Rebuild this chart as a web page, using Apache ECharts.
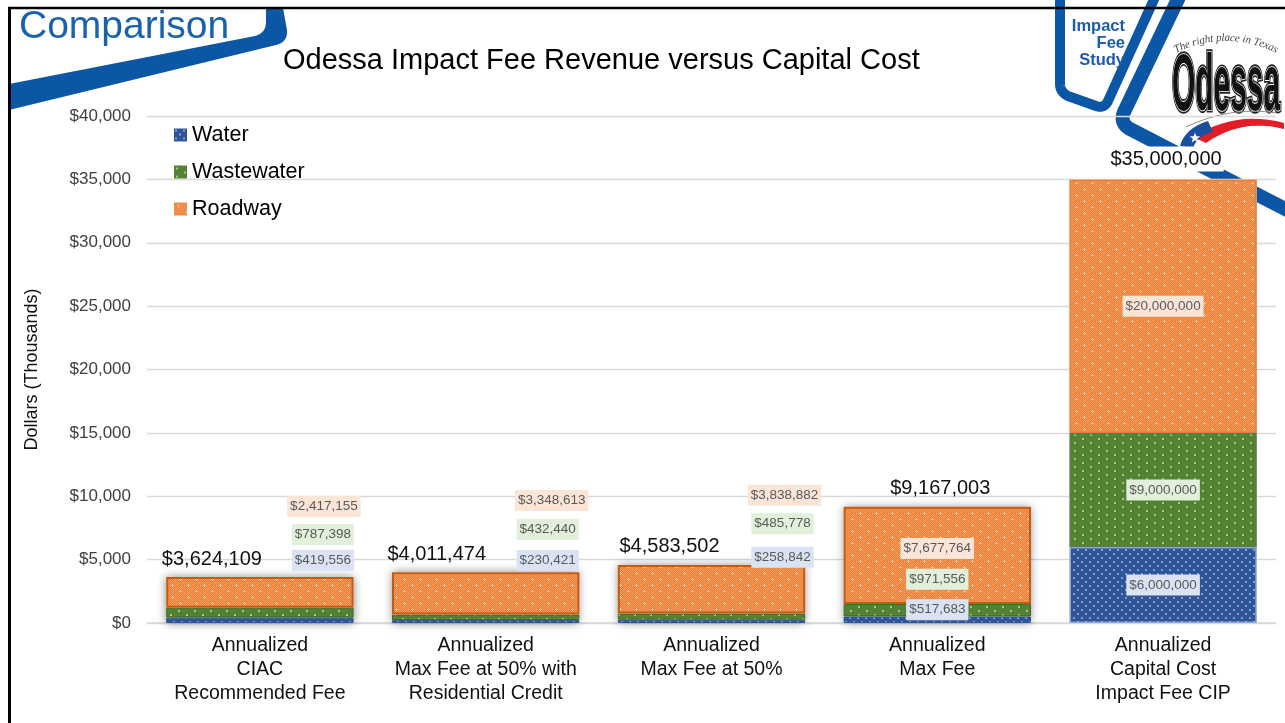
<!DOCTYPE html>
<html>
<head>
<meta charset="utf-8">
<script src="https://cdn.jsdelivr.net/npm/echarts@6/dist/echarts.min.js"></script>
<style>
  html, body { margin: 0; padding: 0; background: #fff; }
  #chart { width: 1285px; height: 723px; }
</style>
</head>
<body>
<div id="chart"></div>
<script>
// Scenario names shown under each column
const categories = [
  'Annualized\nCIAC\nRecommended Fee',
  'Annualized\nMax Fee at 50% with\nResidential Credit',
  'Annualized\nMax Fee at 50%',
  'Annualized\nMax Fee',
  'Annualized\nCapital Cost\nImpact Fee CIP'
];

// Annual amounts in dollars, by utility
const water      = [419556, 230421, 258842, 517683, 6000000];
const wastewater = [787398, 432440, 485778, 971556, 9000000];
const roadway    = [2417155, 3348613, 3838882, 7677764, 20000000];
const totals     = [3624109, 4011474, 4583502, 9167003, 35000000];

// Value axis (thousands of dollars)
const yMin = 0;
const yMax = 40000;
const yStep = 5000;

// Label placement (pixel nudges from each label's default spot)
const labelShift = {
  water:      [[63, -60], [62, -61], [71, -64], [0, -10], [0, 0]],
  wastewater: [[63, -78], [62, -88], [71, -93], [0, -31], [0, 0]],
  roadway:    [[64, -86], [66, -93], [73, -94], [0, -7],  [0, 0]],
  total:      [[-48, 0], [-49, 0], [-42, 0], [3, 0], [3, 0]]
};

const money = v => '$' + Math.round(v).toLocaleString('en-US');

// ---- fill patterns ----
function makeTile(w, h, base, draw) {
  const c = document.createElement('canvas');
  c.width = w; c.height = h;
  const ctx = c.getContext('2d');
  ctx.fillStyle = base;
  ctx.fillRect(0, 0, w, h);
  draw(ctx);
  return c;
}
const waterTile = makeTile(8, 8, '#2f5597', ctx => {
  ctx.fillStyle = '#7f9dd6';
  ctx.fillRect(1, 1, 2, 2);
  ctx.fillRect(5, 5, 2, 2);
});
const wasteTile = makeTile(16, 8, '#548235', ctx => {
  ctx.fillStyle = '#9fcb83';
  ctx.fillRect(2, 2, 2, 2);
  ctx.fillRect(10, 6, 2, 2);
});
const roadTile = makeTile(16, 12, '#ec7a2c', ctx => {
  ctx.fillStyle = '#f3a066';
  for (let y = 0; y < 12; y++) {
    for (let x = 0; x < 16; x++) {
      if ((x + y) % 2 === 0) ctx.fillRect(x, y, 1, 1);
    }
  }
  ctx.fillStyle = '#f8c29c';
  [[4, 3], [12, 9]].forEach(([cx, cy]) => {
    ctx.fillRect(cx - 1, cy, 3, 1);
    ctx.fillRect(cx, cy - 1, 1, 3);
  });
});
const pat = tile => ({ image: tile, repeat: 'repeat' });

const valueLabel = (bg) => ({
  show: true,
  position: 'inside',
  fontFamily: 'Liberation Sans',
  fontSize: 13.5,
  color: '#595959',
  backgroundColor: bg,
  padding: [4, 3, 3, 3],
  formatter: p => money(p.data.raw)
});

function segment(values, key, borderMain, borderLast, widthMain, widthLast) {
  return values.map((v, i) => ({
    value: v / 1000,
    raw: v,
    label: { offset: labelShift[key][i] },
    itemStyle: {
      borderColor: i < 4 ? borderMain : borderLast,
      borderWidth: i < 4 ? widthMain : widthLast
    }
  }));
}

// ---- slide decoration helpers ----
// turns a small "M/L/Q" outline description into a point list
function outline(d) {
  const t = d.trim().split(/\s+/);
  const pts = [];
  let i = 0, cur = [0, 0];
  while (i < t.length) {
    const cmd = t[i++];
    if (cmd === 'M' || cmd === 'L') {
      cur = [+t[i++], +t[i++]];
      pts.push(cur);
    } else if (cmd === 'Q') {
      const c = [+t[i++], +t[i++]], e = [+t[i++], +t[i++]];
      const s = cur;
      for (let k = 1; k <= 12; k++) {
        const u = k / 12, v = 1 - u;
        pts.push([v * v * s[0] + 2 * v * u * c[0] + u * u * e[0],
                  v * v * s[1] + 2 * v * u * c[1] + u * u * e[1]]);
      }
      cur = e;
    }
  }
  return pts;
}

function arcText(str, cx, cy, r, font, fill) {
  const c = document.createElement('canvas').getContext('2d');
  c.font = font;
  const widths = [...str].map(ch => c.measureText(ch).width);
  const total = widths.reduce((a, b) => a + b, 0);
  let acc = -total / 2;
  return [...str].map((ch, i) => {
    const mid = acc + widths[i] / 2;
    acc += widths[i];
    const a = mid / r;
    return {
      type: 'text',
      x: cx + r * Math.sin(a),
      y: cy - r * Math.cos(a),
      rotation: -a,
      silent: true,
      style: { text: ch, font: font, fill: fill, textAlign: 'center', textVerticalAlign: 'middle' }
    };
  });
}

function starPoints(cx, cy, ro, ri) {
  const pts = [];
  for (let k = 0; k < 10; k++) {
    const r = k % 2 === 0 ? ro : ri;
    const a = -Math.PI / 2 + k * Math.PI / 5;
    pts.push([cx + r * Math.cos(a), cy + r * Math.sin(a)]);
  }
  return pts;
}

const blue = '#0b57a5';

const decorations = [
  // "Comparison" header band
  { type: 'polygon', silent: true,
    shape: { points: outline('M 9 84 L 255 36 Q 266 33 266 22 L 266 8 L 283 8 L 287 30 Q 288 42 276 45 L 9 110') },
    style: { fill: blue } },
  { type: 'text', x: 19, y: 27, silent: true,
    style: { text: 'Comparison', font: '39px "Liberation Sans"', fill: '#1a62ad', textVerticalAlign: 'middle' } },

  // logo outline bands
  { type: 'polyline', silent: true,
    shape: { points: outline('M 1060 -5 L 1060 84 Q 1060 92 1068 96 L 1096 106 Q 1104 109 1108 101 L 1156 -5') },
    style: { fill: null, stroke: blue, lineWidth: 10, lineJoin: 'round' } },
  { type: 'polyline', silent: true,
    shape: { points: outline('M 1180 -5 L 1124 112 Q 1119 124 1132 130 L 1190 160 L 1295 214') },
    style: { fill: null, stroke: blue, lineWidth: 14, lineJoin: 'round' } },
  { type: 'text', x: 1125, y: 26, silent: true,
    style: { text: 'Impact', font: 'bold 16.5px "Liberation Sans"', fill: '#1c5ca9', textAlign: 'right', textVerticalAlign: 'middle' } },
  { type: 'text', x: 1125, y: 43, silent: true,
    style: { text: 'Fee', font: 'bold 16.5px "Liberation Sans"', fill: '#1c5ca9', textAlign: 'right', textVerticalAlign: 'middle' } },
  { type: 'text', x: 1125, y: 60, silent: true,
    style: { text: 'Study', font: 'bold 16.5px "Liberation Sans"', fill: '#1c5ca9', textAlign: 'right', textVerticalAlign: 'middle' } },

  // city wordmark
  { type: 'text', x: 1172, y: 88, scaleX: 0.41, scaleY: 1.08, silent: true,
    style: { text: 'Odessa', font: 'bold 73px "Liberation Sans"', fill: '#111', stroke: '#222', lineWidth: 5, textVerticalAlign: 'middle' } },
  { type: 'text', x: 1172, y: 88, scaleX: 0.41, scaleY: 1.08, silent: true,
    style: { text: 'Odessa', font: 'bold 73px "Liberation Sans"', fill: '#111', stroke: '#fff', lineWidth: 1.6, textVerticalAlign: 'middle' } },
  { type: 'polyline', silent: true,
    shape: { points: outline('M 1186 127 Q 1230 106 1276 113') },
    style: { fill: null, stroke: '#8a8a8a', lineWidth: 1 } },
  { type: 'polygon', silent: true,
    shape: { points: outline('M 1193 137 Q 1236 110 1284 123 L 1284 129 Q 1242 118 1206 143') },
    style: { fill: '#e11d27' } },
  { type: 'polygon', silent: true,
    shape: { points: outline('M 1180 146 Q 1185 128 1208 121 L 1213 132 Q 1197 136 1193 148') },
    style: { fill: '#1b4f9e' } },
  { type: 'polygon', silent: true,
    shape: { points: starPoints(1195, 138, 5.5, 2.3) },
    style: { fill: '#fff' } },

  ...arcText('The right place in Texas', 1226, 150, 112, 'italic 11px "Liberation Serif"', '#4a4a4a'),

  // slide frame
  { type: 'line', silent: true, z: 10,
    shape: { x1: 8, y1: 8, x2: 1285, y2: 8 }, style: { stroke: '#000', lineWidth: 2.5 } },
  { type: 'line', silent: true, z: 10,
    shape: { x1: 9.5, y1: 7, x2: 9.5, y2: 723 }, style: { stroke: '#000', lineWidth: 3 } }
];

const option = {
  animation: false,
  backgroundColor: '#fff',
  textStyle: { fontFamily: 'Liberation Sans' },
  title: {
    text: 'Odessa Impact Fee Revenue versus Capital Cost',
    left: 283,
    top: 46,
    padding: 0,
    textStyle: { fontFamily: 'Liberation Sans', fontSize: 29, fontWeight: 'normal', color: '#000' }
  },
  legend: {
    data: ['Water', 'Wastewater', 'Roadway'],
    orient: 'vertical',
    left: 174,
    top: 124,
    padding: 0,
    itemGap: 15,
    itemWidth: 13,
    itemHeight: 13,
    icon: 'rect',
    selectedMode: false,
    textStyle: { fontFamily: 'Liberation Sans', fontSize: 21.5, color: '#000', padding: [0, 0, 0, 0] }
  },
  grid: { left: 147, right: 9, top: 116, bottom: 100, containLabel: false },
  xAxis: {
    type: 'category',
    data: categories,
    axisTick: { show: false },
    axisLine: { lineStyle: { color: '#d9d9d9', width: 1.5 } },
    axisLabel: {
      interval: 0,
      margin: 11,
      fontFamily: 'Liberation Sans',
      fontSize: 19.5,
      lineHeight: 24,
      color: '#111'
    }
  },
  yAxis: {
    type: 'value',
    min: yMin,
    max: yMax,
    interval: yStep,
    name: 'Dollars (Thousands)',
    nameLocation: 'middle',
    nameGap: 106,
    nameTextStyle: { fontFamily: 'Liberation Sans', fontSize: 18, color: '#111' },
    axisLine: { show: false },
    axisTick: { show: false },
    axisLabel: {
      margin: 16,
      fontFamily: 'Liberation Sans',
      fontSize: 17,
      color: '#404040',
      formatter: v => money(v)
    },
    splitLine: { lineStyle: { color: '#d9d9d9', width: 1.3 } }
  },
  series: [
    {
      name: 'Total', type: 'bar', z: 1, silent: true,
      barWidth: '83%', barGap: '-100%',
      itemStyle: { color: '#fff' },
      data: totals.map((v, i) => ({
        value: v / 1000,
        raw: v,
        itemStyle: i < 4
          ? { shadowBlur: 9, shadowColor: 'rgba(0,0,0,0.45)' }
          : { shadowBlur: 0 },
        label: i < 4
          ? { offset: labelShift.total[i] }
          : { offset: labelShift.total[i], backgroundColor: '#fff', padding: [3, 2, 2, 2] }
      })),
      label: {
        show: true, position: 'top', distance: 8,
        fontFamily: 'Liberation Sans', fontSize: 20, color: '#111',
        formatter: p => money(p.data.raw)
      }
    },
    {
      name: 'Water', type: 'bar', stack: 'cost', z: 2,
      barWidth: '83%', barGap: '-100%',
      itemStyle: { color: pat(waterTile) },
      label: valueLabel('#dae3f3'),
      data: segment(water, 'water', '#2f5597', '#8ea8d6', 1, 1.5)
    },
    {
      name: 'Wastewater', type: 'bar', stack: 'cost', z: 2,
      barWidth: '83%', barGap: '-100%',
      itemStyle: { color: pat(wasteTile) },
      label: valueLabel('#e2efda'),
      data: segment(wastewater, 'wastewater', '#3b6426', '#5a7d48', 1, 1.5)
    },
    {
      name: 'Roadway', type: 'bar', stack: 'cost', z: 2,
      barWidth: '83%', barGap: '-100%',
      itemStyle: { color: pat(roadTile) },
      label: valueLabel('#fbe5d6'),
      data: segment(roadway, 'roadway', '#c55a11', '#e0803f', 2, 1.5)
    }
  ],
  graphic: { elements: decorations }
};

const chart = echarts.init(document.getElementById('chart'));
chart.setOption(option);
</script>
</body>
</html>
